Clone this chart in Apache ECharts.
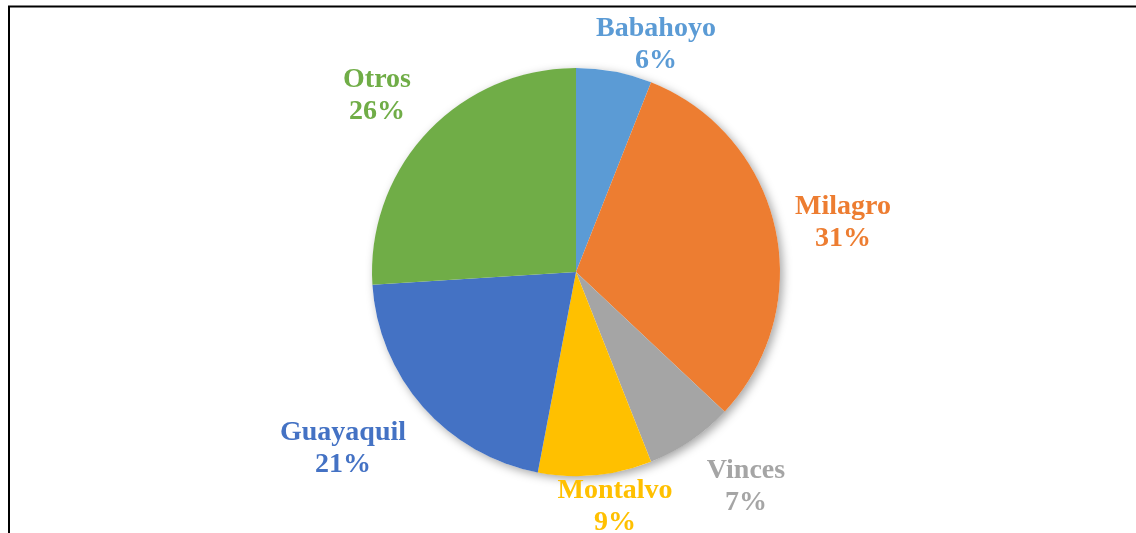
<!DOCTYPE html>
<html>
<head>
<meta charset="utf-8">
<script src="https://cdn.jsdelivr.net/npm/echarts@6/dist/echarts.min.js"></script>
<style>
html,body{margin:0;padding:0;background:#fff;}
#chart{width:1136px;height:533px;}
</style>
</head>
<body>
<div id="chart"></div>
<script>
const categories = ['Babahoyo', 'Milagro', 'Vinces', 'Montalvo', 'Guayaquil', 'Otros'];
const values = [6, 31, 7, 9, 21, 26];
const colors = ['#5B9BD5', '#ED7D31', '#A5A5A5', '#FFC000', '#4472C4', '#70AD47'];
// label anchor positions (layout only), relative to the pie centre
const labelOffsets = [[80, -227], [267, -49], [170, 215], [39, 235], [-233, 177], [-199, -176]];

const cx = 576, cy = 272, R = 204;
const chart = echarts.init(document.getElementById('chart'));
chart.setOption({
  backgroundColor: '#ffffff',
  animation: false,
  graphic: [{
    type: 'polyline',
    shape: { points: [[9, 533], [9, 6.5], [1136, 6.5]] },
    style: { stroke: '#000', lineWidth: 2, fill: null },
    z: 10
  }],
  series: [
    {
      type: 'pie',
      silent: true,
      center: [cx, cy],
      radius: R,
      label: { show: false },
      labelLine: { show: false },
      itemStyle: {
        color: '#ffffff',
        shadowBlur: 10,
        shadowOffsetX: 3,
        shadowOffsetY: 3,
        shadowColor: 'rgba(0,0,0,0.35)'
      },
      data: [{ value: 1, name: '' }],
      z: 1
    },
    {
      type: 'pie',
      center: [cx, cy],
      radius: R,
      startAngle: 90,
      clockwise: true,
      avoidLabelOverlap: false,
      itemStyle: { borderWidth: 0 },
      labelLine: { show: false },
      label: {
        show: true,
        position: 'outside',
        formatter: p => p.name + '\n' + p.value + '%',
        fontFamily: 'Liberation Serif',
        fontWeight: 'bold',
        fontSize: 28,
        lineHeight: 32,
        align: 'center'
      },
      labelLayout: function (params) {
        const o = labelOffsets[params.dataIndex];
        return { x: cx + o[0], y: cy + o[1], align: 'center', verticalAlign: 'middle' };
      },
      data: categories.map((c, i) => ({
        name: c,
        value: values[i],
        itemStyle: { color: colors[i] },
        label: { color: colors[i] }
      })),
      z: 2
    }
  ]
});
</script>
</body>
</html>
